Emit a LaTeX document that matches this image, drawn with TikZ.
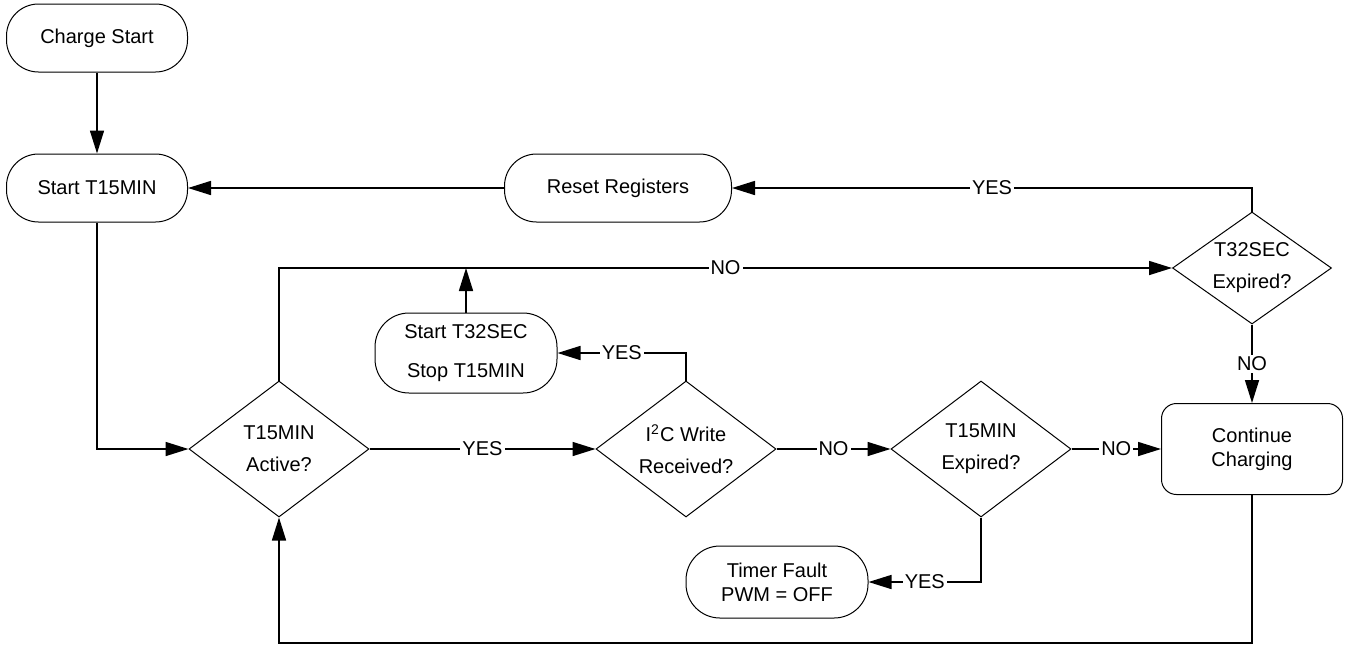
\documentclass[tikz,border=0pt]{standalone}
\usepackage{fontspec}
\setmainfont{Liberation Sans}
\usetikzlibrary{arrows.meta,positioning,shapes.geometric}

\begin{document}
\begin{tikzpicture}[
  x=0.5pt, y=-0.5pt,
  font=\fontsize{10pt}{12pt}\selectfont,
  >={Triangle[length=11.5pt,width=7pt]},
  node distance=40pt,
  term/.style={
    draw,
    rounded corners=16pt,
    minimum width=90.5pt,
    minimum height=34pt,
    align=center,
    fill=white,
    line width=0.5pt
  },
  procbox/.style={
    draw,
    rounded corners=7.5pt,
    minimum width=90.5pt,
    minimum height=45.5pt,
    align=center,
    fill=white,
    line width=0.5pt
  },
  decision/.style={
    draw,
    diamond,
    aspect=1.33,
    inner sep=0pt,
    minimum width=90pt,
    minimum height=68pt,
    align=center,
    fill=white,
    line width=0.5pt,
    font=\fontsize{10pt}{16pt}\selectfont
  },
  arrow/.style={->, line width=0.8pt},
  wire/.style={line width=0.8pt},
  answer/.style={fill=white, inner sep=1pt}
]
\useasboundingbox (0,0) rectangle (1347,654);

% Start of charge
\node[term] (start15) at (97,188) {Start T15MIN};
\node[term, above=40.5pt of start15] (charge) {Charge Start};
\node[term, minimum width=113.5pt] (reset) at (618,188) {Reset Registers};

% Timer checks
\node[decision] (active) at (279,449) {T15MIN\\Active?};
\node[decision] (i2c) at (686,449) {I\textsuperscript{2}C Write\\Received?};
\node[decision] (exp15) at (981,449) {T15MIN\\Expired?};
\node[decision, minimum width=79.5pt, minimum height=56pt] (t32) at (1252,268) {T32SEC\\Expired?};

% Actions
\node[term, minimum width=91pt, minimum height=40pt, rounded corners=17pt,
  font=\fontsize{10pt}{19.5pt}\selectfont] (start32) at (466,353) {Start T32SEC\\Stop T15MIN};
\node[procbox] (cont) at (1252,449) {Continue\\Charging};
\node[term, minimum width=91pt, minimum height=36pt, rounded corners=17pt] (fault) at (777,582) {Timer Fault\\PWM = OFF};

% Main flow
\draw[arrow] (charge) -- (start15);
\draw[arrow] (start15.south) |- (active.west);
\draw[arrow] (active.east) -- node[answer] {YES} (i2c.west);
\draw[arrow] (i2c.east) -- node[answer] {NO} (exp15.west);
\draw[arrow] (exp15.east) -- node[answer] {NO} (cont.west);

% YES branches
\draw[arrow] (i2c.north) |- node[answer, pos=0.75] {YES} (start32.east);
\draw[arrow] (exp15.south) |- node[answer, pos=0.75] {YES} (fault.east);

% T32SEC loop
\draw[arrow] (active.north) |- node[answer, pos=0.75] {NO} (t32.west);
\coordinate (join32) at (start32.north |- t32.west);
\draw[arrow] (start32.north) -- (join32);
\draw[arrow] (t32.south) -- node[answer] {NO} (cont.north);
\draw[arrow] (t32.north) |- node[answer, pos=0.75] {YES} (reset.east);
\draw[arrow] (reset.west) -- (start15.east);

% Back to T15MIN check
\coordinate (back) at (1252,643);
\draw[arrow] (cont.south) -- (back) -| (active.south);

\end{tikzpicture}
\end{document}
